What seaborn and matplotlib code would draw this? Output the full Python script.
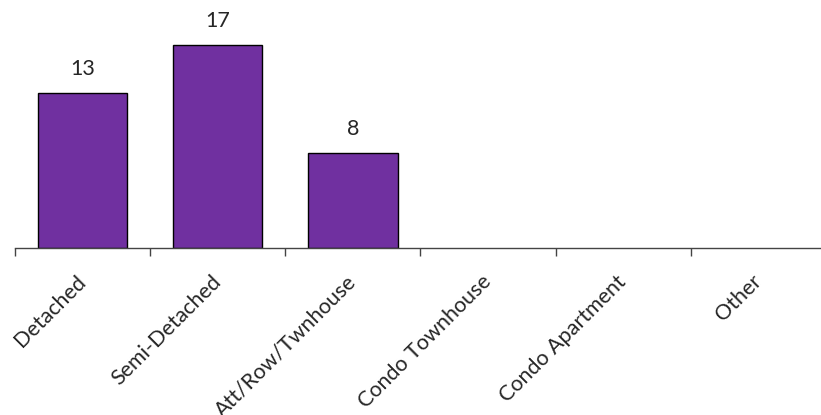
import matplotlib
matplotlib.use("Agg")
import matplotlib.pyplot as plt
import seaborn as sns
import pandas as pd

categories = ["Detached", "Semi-Detached", "Att/Row/Twnhouse", "Condo Townhouse", "Condo Apartment", "Other"]
values = [13, 17, 8, 0, 0, 0]

sns.set_style("white")
plt.rcParams['font.family'] = ['Lato', 'DejaVu Sans']

df = pd.DataFrame({"category": categories, "value": values})

fig = plt.figure(figsize=(8.21, 4.15), dpi=100)
ax = fig.add_axes([15/821, 1 - 248/415, 811/821, 248/415])

sns.barplot(data=df, x="category", y="value", color="#7030A0", saturation=1,
            width=0.66, edgecolor="black", linewidth=1, ax=ax)
for p, v in zip(ax.patches, values):
    if v == 0:
        p.set_visible(False)

ax.set_xlim(-0.5, 5.5)
ax.set_ylim(0, 20.8)
for s in ["top", "right", "left"]:
    ax.spines[s].set_visible(False)
ax.spines["bottom"].set_color("#444444")
ax.spines["bottom"].set_linewidth(1)
ax.set_yticks([])
ax.set_xlabel("")
ax.set_ylabel("")

ax.set_xticks(list(range(len(categories))))
ax.set_xticklabels(categories, rotation=45, ha="right", va="center",
                   rotation_mode="anchor", fontsize=15.5)
ax.set_xticks([i - 0.5 for i in range(len(categories) + 1)], minor=True)
ax.tick_params(axis="x", which="major", bottom=True, length=0, pad=22)
ax.tick_params(axis="x", which="minor", bottom=True, length=6, width=1,
               color="#444444", direction="out")

for i, v in enumerate(values):
    if v > 0:
        ax.annotate(str(v), (i, v), xytext=(0, 10), textcoords="offset points",
                    ha="center", va="bottom", fontsize=15.5)

fig.savefig("out.png", dpi=100)
